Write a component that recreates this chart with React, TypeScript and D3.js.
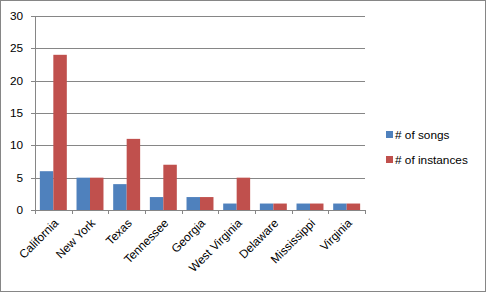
import React from "react";
import * as d3 from "d3";

const categories = ["California", "New York", "Texas", "Tennessee", "Georgia", "West Virginia", "Delaware", "Mississippi", "Virginia"];
const songs = [6, 5, 4, 2, 2, 1, 1, 1, 1];
const instances = [24, 5, 11, 7, 2, 5, 1, 1, 1];
const yTicks = [0, 5, 10, 15, 20, 25, 30];
const seriesNames = ["# of songs", "# of instances"];
const colors = ["#4F81BD", "#C0504D"];

export default function App() {
  const W = 486, H = 292;
  const left = 35, right = 365, top = 16, bottom = 210;
  const x = d3.scaleBand<string>().domain(categories).range([left, right]).paddingInner(0).paddingOuter(0);
  const y = d3.scaleLinear().domain([0, 30]).range([bottom, top]);
  const bw = x.bandwidth();
  const inner = d3.scaleBand<number>().domain([0, 1]).range([0, bw]).paddingInner(0).paddingOuter(0.36);
  const font = "'Liberation Sans', Arial, sans-serif";
  const grid = "#868686";
  const series = [songs, instances];
  const fs = 11.8;
  return (
    <svg width={W} height={H} style={{ position: "absolute", left: 0, top: 0, display: "block" }} fontFamily={font}>
      <rect x={0.5} y={0.5} width={W - 1} height={H - 1} fill="#fff" stroke={grid} />
      {yTicks.map((t) => (
        <g key={t}>
          {t > 0 && <line x1={left} x2={right} y1={Math.round(y(t)) + 0.5} y2={Math.round(y(t)) + 0.5} stroke={grid} />}
          <line x1={left - 4} x2={left} y1={Math.round(y(t)) + 0.5} y2={Math.round(y(t)) + 0.5} stroke={grid} />
          <text x={23} y={y(t)} dy="0.35em" textAnchor="end" fontSize={fs} fill="#000">{t}</text>
        </g>
      ))}
      {categories.map((c, i) => (
        <g key={c}>
          {series.map((s, k) => (
            <rect key={k} x={(x(c) as number) + (inner(k) as number)} y={y(s[i])} width={inner.bandwidth()} height={bottom - y(s[i])} fill={colors[k]} />
          ))}
        </g>
      ))}
      <line x1={left + 0.5} x2={left + 0.5} y1={top} y2={bottom} stroke={grid} />
      <line x1={left} x2={right} y1={bottom + 0.5} y2={bottom + 0.5} stroke={grid} />
      {[...categories.map((c) => x(c) as number), right].map((v, i) => (
        <line key={i} x1={Math.round(v) + 0.5} x2={Math.round(v) + 0.5} y1={bottom} y2={bottom + 4} stroke={grid} />
      ))}
      {categories.map((c) => {
        const cx = (x(c) as number) + bw / 2 + 3;
        const cy = bottom + 11;
        return (
          <text key={c} transform={`translate(${cx},${cy}) rotate(-45)`} textAnchor="end" dy="0.35em" fontSize={fs} fill="#000">{c}</text>
        );
      })}
      {seriesNames.map((n, k) => (
        <g key={n} transform={`translate(386, ${131 + k * 25})`}>
          <rect x={0} y={0} width={7} height={7} fill={colors[k]} />
          <text x={9} y={3.5} dy="0.35em" fontSize={fs} fill="#000">{n}</text>
        </g>
      ))}
    </svg>
  );
}
